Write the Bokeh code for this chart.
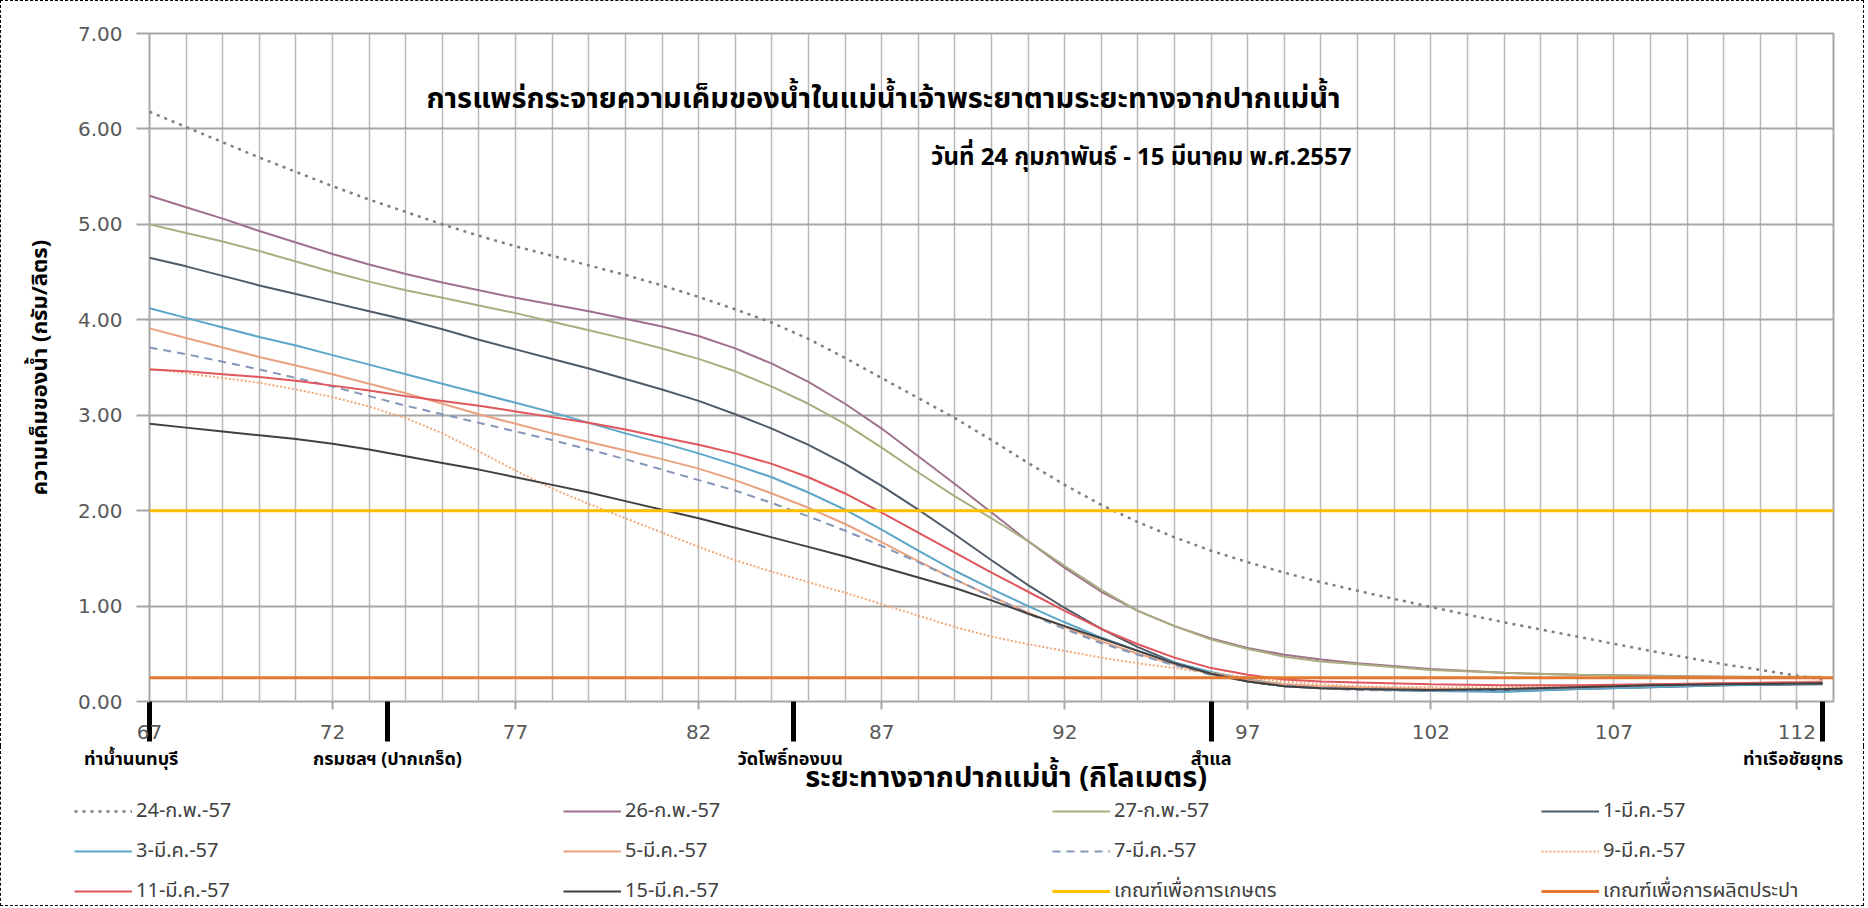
from bokeh.plotting import figure
from bokeh.models import (FixedTicker, Legend, LegendItem, LinearAxis, Label, Range1d,
                          Grid, NumeralTickFormatter)
from bokeh.core.properties import value
from bokeh.embed import file_html
from bokeh.resources import INLINE

# ---------------- data ----------------
km = [67, 68, 69, 70, 71, 72, 73, 74, 75, 76, 77, 78, 79, 80, 81, 82, 83, 84, 85, 86,
      87, 88, 89, 90, 91, 92, 93, 94, 95, 96, 97, 98, 99, 100, 102, 104, 106, 108, 110, 112.7]

s_24feb = [6.18, 6.02, 5.86, 5.70, 5.55, 5.40, 5.26, 5.13, 5.00, 4.88, 4.77, 4.67, 4.57, 4.47, 4.36, 4.24, 4.11, 3.97, 3.80, 3.60,
           3.39, 3.18, 2.97, 2.74, 2.50, 2.27, 2.06, 1.88, 1.72, 1.58, 1.46, 1.35, 1.25, 1.16, 0.99, 0.83, 0.68, 0.53, 0.39, 0.23]
s_26feb = [5.30, 5.18, 5.06, 4.93, 4.81, 4.69, 4.58, 4.48, 4.39, 4.31, 4.23, 4.16, 4.09, 4.01, 3.93, 3.83, 3.70, 3.54, 3.35, 3.12,
           2.86, 2.57, 2.28, 1.98, 1.68, 1.40, 1.15, 0.95, 0.79, 0.66, 0.56, 0.49, 0.44, 0.40, 0.34, 0.30, 0.28, 0.27, 0.26, 0.25]
s_27feb = [5.00, 4.91, 4.82, 4.72, 4.61, 4.50, 4.40, 4.31, 4.23, 4.15, 4.07, 3.98, 3.89, 3.80, 3.70, 3.59, 3.46, 3.30, 3.12, 2.91,
           2.66, 2.40, 2.15, 1.92, 1.68, 1.42, 1.17, 0.95, 0.79, 0.65, 0.55, 0.47, 0.42, 0.39, 0.33, 0.30, 0.28, 0.27, 0.26, 0.26]
s_1mar = [4.65, 4.56, 4.46, 4.36, 4.27, 4.18, 4.09, 4.00, 3.90, 3.79, 3.69, 3.59, 3.49, 3.38, 3.27, 3.15, 3.01, 2.86, 2.69, 2.49,
          2.26, 2.01, 1.75, 1.48, 1.22, 0.98, 0.76, 0.57, 0.41, 0.29, 0.21, 0.16, 0.14, 0.13, 0.11, 0.11, 0.13, 0.15, 0.17, 0.18]
s_3mar = [4.12, 4.02, 3.92, 3.82, 3.73, 3.63, 3.53, 3.43, 3.33, 3.23, 3.13, 3.03, 2.92, 2.81, 2.71, 2.60, 2.48, 2.35, 2.19, 2.01,
          1.80, 1.58, 1.37, 1.18, 1.00, 0.83, 0.67, 0.53, 0.41, 0.31, 0.23, 0.18, 0.15, 0.14, 0.11, 0.10, 0.13, 0.15, 0.17, 0.19]
s_5mar = [3.91, 3.81, 3.71, 3.61, 3.52, 3.43, 3.33, 3.23, 3.12, 3.01, 2.91, 2.81, 2.72, 2.63, 2.54, 2.44, 2.32, 2.18, 2.03, 1.86,
          1.67, 1.47, 1.28, 1.10, 0.93, 0.78, 0.63, 0.50, 0.39, 0.29, 0.22, 0.18, 0.16, 0.15, 0.13, 0.13, 0.15, 0.17, 0.19, 0.21]
s_7mar = [3.71, 3.64, 3.56, 3.48, 3.39, 3.30, 3.20, 3.10, 3.01, 2.92, 2.83, 2.74, 2.64, 2.54, 2.43, 2.32, 2.21, 2.08, 1.94, 1.79,
          1.63, 1.46, 1.28, 1.10, 0.92, 0.76, 0.61, 0.49, 0.38, 0.28, 0.21, 0.16, 0.14, 0.12, 0.11, 0.12, 0.14, 0.16, 0.18, 0.20]
s_9mar = [3.49, 3.44, 3.39, 3.34, 3.27, 3.19, 3.09, 2.97, 2.81, 2.62, 2.42, 2.23, 2.07, 1.92, 1.77, 1.62, 1.48, 1.36, 1.25, 1.14,
          1.02, 0.90, 0.78, 0.68, 0.60, 0.53, 0.46, 0.40, 0.35, 0.30, 0.25, 0.21, 0.18, 0.16, 0.15, 0.15, 0.16, 0.18, 0.19, 0.20]
s_11mar = [3.48, 3.46, 3.43, 3.40, 3.36, 3.31, 3.26, 3.20, 3.15, 3.10, 3.04, 2.98, 2.92, 2.85, 2.77, 2.69, 2.60, 2.49, 2.35, 2.18,
           1.98, 1.77, 1.56, 1.35, 1.15, 0.95, 0.76, 0.60, 0.46, 0.35, 0.28, 0.23, 0.21, 0.20, 0.18, 0.17, 0.17, 0.18, 0.19, 0.20]
s_15mar = [2.91, 2.87, 2.83, 2.79, 2.75, 2.70, 2.64, 2.57, 2.50, 2.43, 2.35, 2.27, 2.19, 2.10, 2.01, 1.92, 1.82, 1.72, 1.62, 1.52,
           1.41, 1.30, 1.19, 1.06, 0.92, 0.79, 0.66, 0.53, 0.40, 0.29, 0.21, 0.16, 0.14, 0.13, 0.12, 0.13, 0.15, 0.17, 0.18, 0.19]

series_labels = ["24-ก.พ.-57", "26-ก.พ.-57", "27-ก.พ.-57", "1-มี.ค.-57", "3-มี.ค.-57",
                 "5-มี.ค.-57", "7-มี.ค.-57", "9-มี.ค.-57", "11-มี.ค.-57", "15-มี.ค.-57"]
limit_labels = ["เกณฑ์เพื่อการเกษตร", "เกณฑ์เพื่อการผลิตประปา"]
limit_values = [2.0, 0.25]

station_km = [67.0, 73.5, 84.6, 96.0, 112.7]
station_names = ["ท่าน้ำนนทบุรี", "กรมชลฯ (ปากเกร็ด)", "วัดโพธิ์ทองบน", "สำแล", "ท่าเรือชัยยุทธ"]

x_ticks = [67, 72, 77, 82, 87, 92, 97, 102, 107, 112]
y_ticks = [0, 1, 2, 3, 4, 5, 6, 7]
x_min, x_max = 67, 113

title1 = "การแพร่กระจายความเค็มของน้ำในแม่น้ำเจ้าพระยาตามระยะทางจากปากแม่น้ำ"
title2 = "วันที่ 24 กุมภาพันธ์ - 15 มีนาคม พ.ศ.2557"
x_title = "ระยะทางจากปากแม่น้ำ (กิโลเมตร)"
y_title = "ความเค็มของน้ำ (กรัม/ลิตร)"

# ---------------- styles / layout ----------------
THAI = "Tahoma, 'Noto Sans Thai', 'DejaVu Sans', sans-serif"
NUM = "'DejaVu Sans', sans-serif"

styles = [
    dict(color="#7f7f7f", line_width=2.5, line_dash="3 5"),
    dict(color="#a0718e", line_width=2, line_dash="solid"),
    dict(color="#a9ad80", line_width=2, line_dash="solid"),
    dict(color="#4f5b69", line_width=2, line_dash="solid"),
    dict(color="#5ba6c9", line_width=2, line_dash="solid"),
    dict(color="#e9a27f", line_width=2, line_dash="solid"),
    dict(color="#8497b8", line_width=2, line_dash="8 6"),
    dict(color="#f2a878", line_width=2, line_dash="2 2"),
    dict(color="#e0565c", line_width=2, line_dash="solid"),
    dict(color="#404040", line_width=2, line_dash="solid"),
]
limit_styles = [dict(color="#ffc000", line_width=3), dict(color="#e5782f", line_width=3)]

W = 1864
H1, H2 = 746, 160
B_LEFT, B_RIGHT, B_TOP, B_BOTTOM = 148, 32, 32, 46
DASH = "1px dashed #000000"

p = figure(width=W, height=H1, x_range=Range1d(x_min, x_max), y_range=Range1d(0, 7),
           output_backend="svg", toolbar_location=None,
           x_axis_location=None, y_axis_location=None,
           min_border_left=B_LEFT, min_border_right=B_RIGHT,
           min_border_top=B_TOP, min_border_bottom=B_BOTTOM,
           background_fill_color="white", border_fill_color="white",
           outline_line_color="#a6a6a6", outline_line_width=2)
p.grid.visible = False
p.styles = {"border-top": DASH, "border-left": DASH, "border-right": DASH}

# grids
p.add_layout(Grid(dimension=0, ticker=FixedTicker(ticks=list(range(x_min, x_max + 1))),
                  grid_line_color="#b8b8b8", grid_line_width=1.5))
p.add_layout(Grid(dimension=1, ticker=FixedTicker(ticks=y_ticks),
                  grid_line_color="#a6a6a6", grid_line_width=2))

# y axis
yaxis = LinearAxis(ticker=FixedTicker(ticks=y_ticks), formatter=NumeralTickFormatter(format="0.00"),
                   axis_label=y_title)
yaxis.axis_line_color = None
yaxis.major_tick_out = 13
yaxis.major_tick_in = 0
yaxis.major_tick_line_color = "#a6a6a6"
yaxis.major_tick_line_width = 2
yaxis.minor_tick_line_color = None
yaxis.major_label_standoff = 14
yaxis.major_label_text_font = NUM
yaxis.major_label_text_font_size = "20px"
yaxis.major_label_text_color = "#595959"
yaxis.axis_label_standoff = 18
yaxis.axis_label_text_font = THAI
yaxis.axis_label_text_font_size = "22px"
yaxis.axis_label_text_font_style = "bold"
yaxis.axis_label_text_color = "#000000"
p.add_layout(yaxis, "left")

# x axis: numeric major ticks, station markers as long black minor ticks
xaxis = LinearAxis(ticker=FixedTicker(ticks=x_ticks, minor_ticks=station_km))
xaxis.axis_line_color = None
xaxis.major_tick_out = 8
xaxis.major_tick_in = 0
xaxis.major_tick_line_color = "#a6a6a6"
xaxis.major_tick_line_width = 2
xaxis.minor_tick_out = 40
xaxis.minor_tick_in = 0
xaxis.minor_tick_line_color = "#000000"
xaxis.minor_tick_line_width = 5
xaxis.major_label_standoff = -17
xaxis.major_label_text_font = NUM
xaxis.major_label_text_font_size = "20px"
xaxis.major_label_text_color = "#595959"
p.add_layout(xaxis, "below")

# series
all_series = [s_24feb, s_26feb, s_27feb, s_1mar, s_3mar, s_5mar, s_7mar, s_9mar, s_11mar, s_15mar]
for ys, st in zip(all_series, styles):
    p.line(km, ys, line_color=st["color"], line_width=st["line_width"], line_dash=st["line_dash"])
for lv, st in zip(limit_values, limit_styles):
    p.line([x_min, x_max], [lv, lv], line_color=st["color"], line_width=st["line_width"])

# titles inside the plot
p.add_layout(Label(x=87.05, y=6.31, text=title1, text_align="center", text_baseline="middle",
                   text_font=THAI, text_font_size="29px", text_font_style="bold", text_color="#000000"))
p.add_layout(Label(x=99.83, y=5.70, text=title2, text_align="right", text_baseline="middle",
                   text_font=THAI, text_font_size="24px", text_font_style="bold", text_color="#000000"))

# ---------------- lower strip: station names, x title, legend ----------------
px_per_km = (W - B_LEFT - B_RIGHT) / (x_max - x_min)
p2 = figure(width=W, height=H2,
            x_range=Range1d(x_min - B_LEFT / px_per_km, x_max + B_RIGHT / px_per_km),
            y_range=Range1d(H2, 0),
            output_backend="svg", toolbar_location=None,
            x_axis_location=None, y_axis_location=None, min_border=0,
            background_fill_color="white", border_fill_color="white", outline_line_color=None)
p2.grid.visible = False
p2.styles = {"border-bottom": DASH, "border-left": DASH, "border-right": DASH}

name_x = [66.5, 73.5, 84.5, 96.0, 111.9]
p2.text(x=name_x, y=[13] * len(name_x), text=station_names, text_align="center",
        text_baseline="middle", text_font=value(THAI), text_font_size="18px",
        text_font_style="bold", text_color="#000000")
p2.text(x=[90.4], y=[31], text=[x_title], text_align="center", text_baseline="middle",
        text_font=value(THAI), text_font_size="29px", text_font_style="bold", text_color="#000000")

nan = float("nan")
legend_renderers = []
for st in styles:
    legend_renderers.append(p2.line([nan], [nan], line_color=st["color"], line_width=st["line_width"],
                                    line_dash=st["line_dash"]))
for st in limit_styles:
    legend_renderers.append(p2.line([nan], [nan], line_color=st["color"], line_width=st["line_width"]))

labels_all = series_labels + limit_labels
items = [LegendItem(label=lab, renderers=[r]) for lab, r in zip(labels_all, legend_renderers)]
legend = Legend(items=items, ncols=4, orientation="horizontal", location=(73, 0),
                glyph_width=58, glyph_height=28, label_height=28, label_width=417,
                label_standoff=4, spacing=10, padding=0, margin=0,
                border_line_color=None, background_fill_alpha=0,
                label_text_font=THAI, label_text_font_size="20px", label_text_color="#404040")
p2.add_layout(legend, "center")

open("out.html", "w").write(file_html([p, p2], INLINE))
